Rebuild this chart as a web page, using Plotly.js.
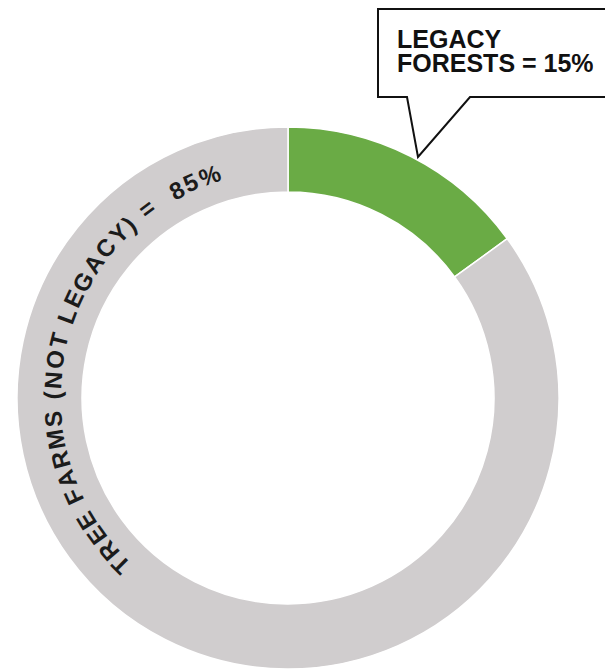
<!DOCTYPE html>
<html><head><meta charset="utf-8">
<script src="https://cdn.plot.ly/plotly-3.0.1.min.js"></script>
<style>html,body{margin:0;padding:0;background:#fff}#chart{width:605px;height:670px}</style>
</head><body><div id="chart"></div>
<script>
// ---- data ----
const categories = ['Legacy forests', 'Tree farms (not legacy)'];
const values = [15, 85];
const sliceColors = ['#6aab45', '#d0cdce'];
const calloutLines = ['LEGACY', 'FORESTS = ' + values[0] + '%'];
const arcLabel = 'TREE FARMS (NOT LEGACY) =  ' + values[1] + '%';

// ---- geometry (pixels) ----
const W = 605, H = 670, CX = 288, CY = 398, R = 271;

const pieTrace = {
  type: 'pie', values: values, labels: categories, sort: false,
  direction: 'clockwise', rotation: 0, hole: 0.76,
  marker: {colors: sliceColors, line: {color: '#ffffff', width: 1.5}},
  textinfo: 'none', hoverinfo: 'label+percent', showlegend: false,
  domain: {x: [(CX - R) / W, (CX + R) / W], y: [(H - CY - R) / H, (H - CY + R) / H]}
};
const helper = {type: 'scatter', x: [], y: [], hoverinfo: 'skip', showlegend: false};

// curved label along the ring
const arcFontSize = 24;
const ctx = document.createElement('canvas').getContext('2d');
ctx.font = 'bold ' + arcFontSize + 'px "Liberation Sans"';
const chars = Array.from(arcLabel);
const widths = chars.map(c => ctx.measureText(c).width);
const th0 = 225, th1 = 109.5, rText = 236;
const arcLen = (th0 - th1) * Math.PI / 180 * rText;
const innerW = widths.reduce((a, b) => a + b, 0) - widths[0] / 2 - widths[widths.length - 1] / 2;
const ls = (arcLen - innerW) / (chars.length - 1);
const annotations = [];
let s = 0;
chars.forEach((c, i) => {
  if (i > 0) s += widths[i - 1] / 2 + ls + widths[i] / 2;
  if (c === ' ') return;
  const th = th0 - s / rText * 180 / Math.PI;
  const rad = th * Math.PI / 180;
  annotations.push({
    xref: 'x', yref: 'y', x: CX + rText * Math.cos(rad), y: CY - rText * Math.sin(rad),
    text: c, showarrow: false, xanchor: 'center', yanchor: 'middle',
    textangle: 90 - th,
    font: {family: 'Liberation Sans, Arial, sans-serif', size: arcFontSize, color: '#1b1b1b', weight: 'bold'}
  });
});

// callout text
const calloutFont = {family: 'Liberation Sans, Arial, sans-serif', size: 25, color: '#111111', weight: 'bold'};
annotations.push({xref: 'x', yref: 'y', x: 395, y: 39, text: calloutLines[0], showarrow: false,
  xanchor: 'left', yanchor: 'middle', height: 22, valign: 'middle', font: calloutFont});
annotations.push({xref: 'x', yref: 'y', x: 395, y: 63, text: calloutLines[1], showarrow: false,
  xanchor: 'left', yanchor: 'middle', height: 22, valign: 'middle', font: calloutFont});

const layout = {
  width: W, height: H, margin: {l: 0, r: 0, t: 0, b: 0},
  paper_bgcolor: '#ffffff', plot_bgcolor: 'rgba(0,0,0,0)', showlegend: false,
  xaxis: {range: [0, W], visible: false, fixedrange: true, domain: [0, 1]},
  yaxis: {range: [H, 0], visible: false, fixedrange: true, domain: [0, 1]},
  shapes: [{
    type: 'path', xref: 'x', yref: 'y', layer: 'above',
    path: 'M 378 9 L 615 9 L 615 97 L 470 97 L 418 157 L 407 97 L 378 97 Z',
    fillcolor: '#ffffff', line: {color: '#111111', width: 2}
  }],
  annotations: annotations
};

Plotly.newPlot('chart', [helper, pieTrace], layout, {displayModeBar: false, staticPlot: true});
</script>
</body></html>
